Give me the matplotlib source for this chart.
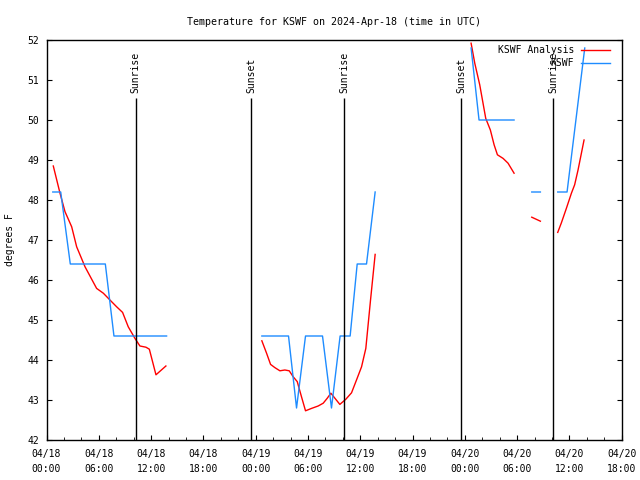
import numpy as np
import matplotlib
matplotlib.use("Agg")
import matplotlib.pyplot as plt
from matplotlib.ticker import MultipleLocator
from datetime import datetime, timedelta

nan = np.nan

# hours since 2024-04-18 00:00 UTC, nan breaks the line
ana_h = [0.78, 1.55, 2.12, 2.89, 3.46, 4.42, 5.75, 6.52, 7.28, 8.05, 8.73, 9.38,
         10.15, 10.72, 11.41, 11.8, 12.56, 13.7, nan,
         24.71, 25.25, 25.71, 26.2, 26.78, 27.35, 27.85, 28.31, 28.77, 29.26, 29.72,
         30.41, 31.17, 31.75, 32.2, 32.63, 33.66, 34.35, 35.0, 35.57, 36.15, 36.64,
         37.18, 37.71, nan,
         48.72, 49.14, 49.71, 50.4, 50.93, 51.36, 51.74, 52.39, 52.96, 53.65, nan,
         55.68, 56.67, nan,
         58.66, 59.08, 59.65, 60.23, 60.6, 60.99, 61.45, 61.68]
ana_t = [48.85, 48.17, 47.71, 47.33, 46.83, 46.33, 45.79, 45.67, 45.5, 45.33, 45.19, 44.83,
         44.54, 44.35, 44.32, 44.27, 43.63, 43.85, nan,
         44.48, 44.17, 43.89, 43.81, 43.73, 43.75, 43.73, 43.58, 43.46, 43.08, 42.73,
         42.79, 42.85, 42.92, 43.04, 43.17, 42.89, 43.02, 43.18, 43.5, 43.83, 44.29,
         45.5, 46.64, nan,
         51.92, 51.42, 50.88, 50.04, 49.75, 49.38, 49.13, 49.04, 48.92, 48.67, nan,
         47.57, 47.47, nan,
         47.19, 47.43, 47.79, 48.17, 48.38, 48.75, 49.25, 49.5]

obs_h = [0.72, 1.63, 2.73, 6.75, 7.74, 13.78, nan,
         24.71, 27.77, 28.69, 29.72, 31.67, 32.7, 33.69, 34.84, 35.65, 36.72, 37.71, nan,
         48.72, 49.63, 53.65, nan,
         55.68, 56.67, nan,
         58.66, 59.73, 61.76]
obs_t = [48.2, 48.2, 46.4, 46.4, 44.6, 44.6, nan,
         44.6, 44.6, 42.8, 44.6, 44.6, 42.8, 44.6, 44.6, 46.4, 46.4, 48.2, nan,
         51.8, 50.0, 50.0, nan,
         48.2, 48.2, nan,
         48.2, 48.2, 51.8]

sun_h = [10.23, 23.49, 34.17, 47.55, 58.15]
sun_lbl = ["Sunrise", "Sunset", "Sunrise", "Sunset", "Sunrise"]

start = datetime(2024, 4, 18)
tick_h = list(range(0, 67, 6))
tick_lbl = [(start + timedelta(hours=h)).strftime("%m/%d\n%H:%M") for h in tick_h]

plt.rcParams['font.family'] = 'DejaVu Sans Mono'
plt.rcParams['font.size'] = 7

fig = plt.figure(figsize=(6.4, 4.8), dpi=100)
ax = fig.add_axes([46.5/640, 40/480, 575.2/640, 400/480])

ax.plot(ana_h, ana_t, c='#ff0000', lw=1, label='KSWF Analysis')
ax.plot(obs_h, obs_t, c='#1e8cff', lw=1, label='KSWF')

for h, s in zip(sun_h, sun_lbl):
    ax.vlines(h, 42, 50.54, colors='k', lw=1)
    ax.text(h, 50.68, s, rotation=90, ha='center', va='bottom')

ax.set_xlim(0, 66)
ax.set_ylim(42, 52)
ax.set_xticks(tick_h, tick_lbl)
for t in ax.get_xticklabels():
    t.set_linespacing(1.6)
ax.xaxis.set_minor_locator(MultipleLocator(2))
ax.set_yticks(range(42, 53))
ax.tick_params(axis='x', which='major', direction='in', length=3.3, pad=6.5)
ax.tick_params(axis='x', which='minor', direction='in', length=2)
ax.tick_params(axis='y', direction='in', length=3.5, pad=5, right=True)
for sp in ax.spines.values():
    sp.set_linewidth(1)

ax.set_title('Temperature for KSWF on 2024-Apr-18 (time in UTC)', fontsize=7.2, pad=11)
ax.set_ylabel('degrees F')
ax.yaxis.set_label_coords(-0.055, 0.5)

ax.legend(loc='upper right', bbox_to_anchor=(0.9797, 0.987), frameon=False,
          markerfirst=False, borderpad=0, borderaxespad=0, handlelength=3.0,
          handletextpad=0.7, labelspacing=0.3)

fig.savefig('out.png', dpi=100)
